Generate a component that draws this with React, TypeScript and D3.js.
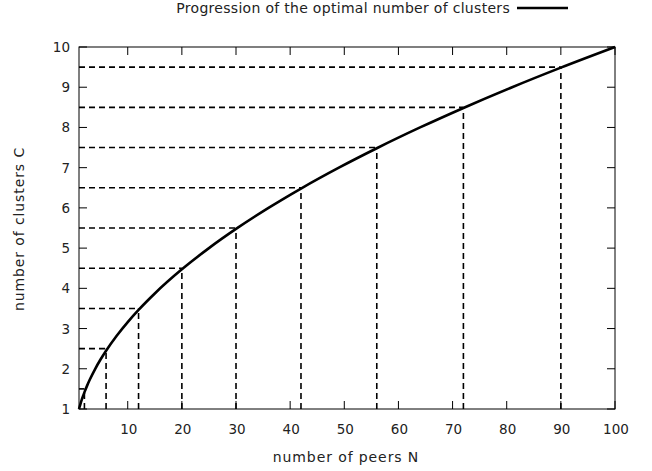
import React from "react";
import * as d3 from "d3";

const curveN = [1, 1.1, 1.25, 1.5, 1.75, 2, 2.5, 3, 4, 5, 6, 8, 10, 12, 15, 20, 25, 30, 36, 42, 49, 56, 64, 72, 81, 90, 100];
const curveC = [1, 1.049, 1.118, 1.225, 1.323, 1.414, 1.581, 1.732, 2, 2.236, 2.449, 2.828, 3.162, 3.464, 3.873, 4.472, 5, 5.477, 6, 6.481, 7, 7.483, 8, 8.485, 9, 9.487, 10];
const markN = [2, 6, 12, 20, 30, 42, 56, 72, 90];
const markC = [1.5, 2.5, 3.5, 4.5, 5.5, 6.5, 7.5, 8.5, 9.5];
const xTicks = [10, 20, 30, 40, 50, 60, 70, 80, 90, 100];
const yTicks = [1, 2, 3, 4, 5, 6, 7, 8, 9, 10];

const W = 652, H = 471;
const L = 79, R = 615, T = 47, B = 409;
const FONT = "DejaVu Sans, sans-serif";

export default function App() {
  const x = d3.scaleLinear().domain([1, 100]).range([L, R]);
  const y = d3.scaleLinear().domain([1, 10]).range([B, T]);
  const line = d3.line<number>().x((_, i) => x(curveN[i])).y((d) => y(d)).curve(d3.curveMonotoneX);
  const tl = 8;
  return (
    <svg width={W} height={H} style={{ position: "absolute", left: 0, top: 0, background: "#fff" }}>
      <rect x={0} y={0} width={W} height={H} fill="#fff" />
      {markN.map((n, i) => (
        <g key={i} stroke="#000" strokeWidth={1.6} strokeDasharray="6,4" fill="none">
          <line x1={x(1)} x2={x(n)} y1={y(markC[i])} y2={y(markC[i])} />
          <line x1={x(n)} x2={x(n)} y1={y(1)} y2={y(markC[i])} />
        </g>
      ))}
      {xTicks.map((t) => (
        <g key={t}>
          <line x1={x(t)} x2={x(t)} y1={B} y2={B - tl} stroke="#000" strokeWidth={1} />
          <line x1={x(t)} x2={x(t)} y1={T} y2={T + tl} stroke="#000" strokeWidth={1} />
          <text x={x(t) + 1} y={434} textAnchor="middle" fontFamily={FONT} fontSize={13.5} fill="#222">{t}</text>
        </g>
      ))}
      {yTicks.map((t) => (
        <g key={t}>
          <line x1={L} x2={L + tl} y1={y(t)} y2={y(t)} stroke="#000" strokeWidth={1} />
          <line x1={R} x2={R - tl} y1={y(t)} y2={y(t)} stroke="#000" strokeWidth={1} />
          <text x={70} y={y(t) + 5} textAnchor="end" fontFamily={FONT} fontSize={13.5} fill="#222">{t}</text>
        </g>
      ))}
      <rect x={L} y={T} width={R - L} height={B - T} fill="none" stroke="#000" strokeWidth={1} />
      <path d={line(curveC) || ""} fill="none" stroke="#000" strokeWidth={2.6} />
      <text x={346} y={462} textAnchor="middle" fontFamily={FONT} fontSize={14} letterSpacing={0.9} fill="#222">number of peers N</text>
      <text transform={`translate(24,229) rotate(-90)`} textAnchor="middle" fontFamily={FONT} fontSize={14} letterSpacing={0.9} fill="#222">number of clusters C</text>
      <text x={510} y={13} textAnchor="end" fontFamily={FONT} fontSize={14} letterSpacing={0.3} fill="#222">Progression of the optimal number of clusters</text>
      <line x1={517} x2={568} y1={8} y2={8} stroke="#000" strokeWidth={2.6} />
    </svg>
  );
}
